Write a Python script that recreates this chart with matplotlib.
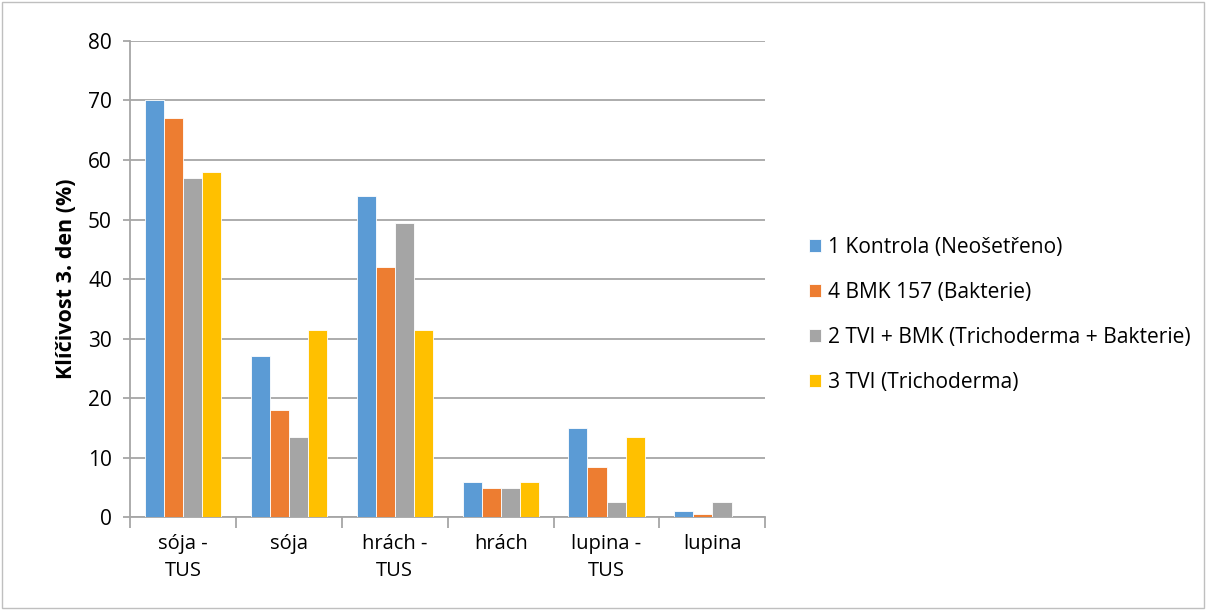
import numpy as np
import matplotlib.pyplot as plt
from matplotlib.patches import Rectangle

plt.rcParams['font.family'] = ['Open Sans', 'DejaVu Sans']

categories = ['sója -\nTUS', 'sója', 'hrách -\nTUS', 'hrách', 'lupina -\nTUS', 'lupina']
series_names = ['1 Kontrola (Neošetřeno)', '4 BMK 157 (Bakterie)',
                '2 TVI + BMK (Trichoderma + Bakterie)', '3 TVI (Trichoderma)']
kontrola = [70, 27, 54, 6, 15, 1]
bmk = [67, 18, 42, 5, 8.5, 0.5]
tvi_bmk = [57, 13.5, 49.5, 5, 2.5, 2.5]
tvi = [58, 31.5, 31.5, 6, 13.5, 0]
colors = ['#5b9bd5', '#ed7d31', '#a5a5a5', '#ffc000']

fig = plt.figure(figsize=(12.08, 6.1), dpi=100)
ax = fig.add_axes([0.1076, 0.152, 0.526, 0.781])

x = np.arange(len(categories))
w = 0.18
for i, (vals, name) in enumerate(zip([kontrola, bmk, tvi_bmk, tvi], series_names)):
    ax.bar(x + (i - 1.5) * w, vals, w, color=colors[i], label=name,
           edgecolor='white', linewidth=0.6, zorder=3)

ax.set_xlim(-0.5, len(categories) - 0.5)
ax.set_ylim(0, 80)
ax.set_yticks(range(0, 81, 10))
ax.yaxis.grid(True, color='#a6a6a6', linewidth=1.3, zorder=0)
ax.set_xticks(x)
ax.set_xticklabels(categories, fontsize=14.5, linespacing=1.45)
ax.tick_params(axis='x', length=0, pad=12)
ax.set_xticks(np.arange(-0.5, len(categories)), minor=True)
ax.tick_params(axis='x', which='minor', length=8, color='#a6a6a6', width=1.3)
ax.tick_params(axis='y', labelsize=15, length=5, color='#a6a6a6', width=1.3, pad=8)
for s in ['top', 'right']:
    ax.spines[s].set_visible(False)
for s in ['left', 'bottom']:
    ax.spines[s].set_color('#a6a6a6')
    ax.spines[s].set_linewidth(1.3)
ax.set_ylabel('Klíčivost 3. den (%)', fontsize=15.5, fontweight='bold', labelpad=8)

fig.legend(loc='center left', bbox_to_anchor=(0.654, 0.484), frameon=False,
           fontsize=15.1, handlelength=0.6, handleheight=0.6, handletextpad=0.3,
           labelspacing=1.15)

fig.patches.append(Rectangle((0.002, 0.003), 0.995, 0.993, transform=fig.transFigure,
                             fill=False, edgecolor='#bfbfbf', linewidth=1))

fig.savefig('out.png', dpi=100)
